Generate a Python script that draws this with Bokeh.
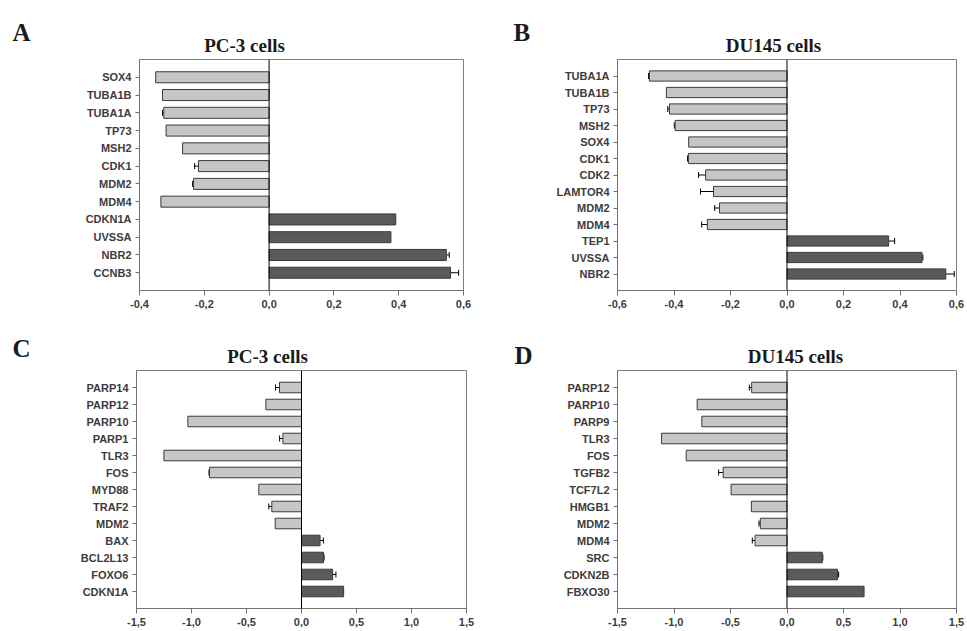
from bokeh.plotting import figure
from bokeh.layouts import column, row
from bokeh.models import (Range1d, FixedTicker, CustomJSTickFormatter, Span, Whisker,
                          TeeHead, Label, ColumnDataSource)
from bokeh.embed import file_html
from bokeh.resources import INLINE

# ---------------- data ----------------
A_genes = ["SOX4", "TUBA1B", "TUBA1A", "TP73", "MSH2", "CDK1", "MDM2", "MDM4",
           "CDKN1A", "UVSSA", "NBR2", "CCNB3"]
A_values = [-0.350, -0.329, -0.325, -0.318, -0.267, -0.218, -0.233, -0.334,
            0.391, 0.376, 0.547, 0.560]
A_errors = [0, 0, 0.004, 0, 0, 0.012, 0.003, 0, 0, 0, 0.009, 0.025]
A_ticks = [-0.4, -0.2, 0.0, 0.2, 0.4, 0.6]

B_genes = ["TUBA1A", "TUBA1B", "TP73", "MSH2", "SOX4", "CDK1", "CDK2", "LAMTOR4",
           "MDM2", "MDM4", "TEP1", "UVSSA", "NBR2"]
B_values = [-0.487, -0.427, -0.416, -0.396, -0.348, -0.349, -0.288, -0.260,
            -0.239, -0.282, 0.360, 0.478, 0.562]
B_errors = [0.003, 0, 0.006, 0.003, 0, 0.003, 0.025, 0.046, 0.017, 0.020,
            0.021, 0.003, 0.030]
B_ticks = [-0.6, -0.4, -0.2, 0.0, 0.2, 0.4, 0.6]

C_genes = ["PARP14", "PARP12", "PARP10", "PARP1", "TLR3", "FOS", "MYD88", "TRAF2",
           "MDM2", "BAX", "BCL2L13", "FOXO6", "CDKN1A"]
C_values = [-0.200, -0.324, -1.033, -0.169, -1.251, -0.836, -0.388, -0.270,
            -0.239, 0.169, 0.200, 0.283, 0.383]
C_errors = [0.036, 0, 0, 0.030, 0, 0.005, 0, 0.027, 0, 0.030, 0.005, 0.030, 0]
C_ticks = [-1.5, -1.0, -0.5, 0.0, 0.5, 1.0, 1.5]

D_genes = ["PARP12", "PARP10", "PARP9", "TLR3", "FOS", "TGFB2", "TCF7L2", "HMGB1",
           "MDM2", "MDM4", "SRC", "CDKN2B", "FBXO30"]
D_values = [-0.313, -0.795, -0.754, -1.110, -0.892, -0.565, -0.495, -0.315,
            -0.236, -0.283, 0.312, 0.447, 0.682]
D_errors = [0.020, 0, 0, 0, 0, 0.040, 0, 0, 0.012, 0.024, 0.005, 0.010, 0]
D_ticks = [-1.5, -1.0, -0.5, 0.0, 0.5, 1.0, 1.5]

NEG_FILL = "#c6c6c6"
POS_FILL = "#5a5a5a"
EDGE = "#3a3a3a"
LABEL_COLOR = "#3c3c3c"


def make_header(letter, title, width, height, letter_pos, title_pos):
    h = figure(width=width, height=height, output_backend="svg", toolbar_location=None,
               x_axis_location=None, y_axis_location=None,
               x_range=Range1d(0, 1), y_range=Range1d(0, 1),
               min_border_left=0, min_border_right=0, min_border_top=0,
               min_border_bottom=0)
    h.outline_line_color = None
    h.xgrid.visible = False
    h.ygrid.visible = False
    h.background_fill_color = "white"
    h.border_fill_color = "white"
    lx, ly = letter_pos
    h.add_layout(Label(x=lx, y=ly, x_units="screen", y_units="screen", text=letter,
                       text_font="Liberation Serif", text_font_style="bold",
                       text_font_size="25px", text_color="#1a1a1a",
                       text_baseline="alphabetic", text_align="left"))
    tx, ty = title_pos
    h.add_layout(Label(x=tx, y=ty, x_units="screen", y_units="screen", text=title,
                       text_font="Liberation Serif", text_font_style="bold",
                       text_font_size="19px", text_color="#1a1a1a",
                       text_baseline="alphabetic", text_align="center"))
    return h


def make_panel(genes, values, errors, ticks, width, height, borders):
    n = len(genes)
    bl, br, bt, bb = borders
    p = figure(width=width, height=height, output_backend="svg", toolbar_location=None,
               x_range=Range1d(ticks[0], ticks[-1]), y_range=Range1d(n, -1),
               min_border_left=bl, min_border_right=br, min_border_top=bt,
               min_border_bottom=bb)
    p.background_fill_color = "white"
    p.border_fill_color = "white"
    p.outline_line_color = "#808080"
    p.outline_line_width = 1
    p.xgrid.visible = False
    p.ygrid.visible = False

    pos = list(range(n))
    neg_idx = [i for i in pos if values[i] < 0]
    pos_idx = [i for i in pos if values[i] >= 0]

    src_neg = ColumnDataSource(dict(y=[pos[i] for i in neg_idx],
                                    v=[values[i] for i in neg_idx]))
    src_pos = ColumnDataSource(dict(y=[pos[i] for i in pos_idx],
                                    v=[values[i] for i in pos_idx]))
    p.hbar(y="y", left=0, right="v", height=0.62, source=src_neg,
           fill_color=NEG_FILL, line_color=EDGE, line_width=1)
    p.hbar(y="y", left=0, right="v", height=0.62, source=src_pos,
           fill_color=POS_FILL, line_color=EDGE, line_width=1)

    # error bars (one-sided, outward)
    en = [i for i in neg_idx if errors[i] > 0]
    ep = [i for i in pos_idx if errors[i] > 0]
    if en:
        s = ColumnDataSource(dict(base=[pos[i] for i in en],
                                  lower=[values[i] - errors[i] for i in en],
                                  upper=[values[i] for i in en]))
        p.add_layout(Whisker(source=s, base="base", lower="lower", upper="upper",
                             dimension="width", line_color="black", line_width=1,
                             lower_head=TeeHead(size=6, line_color="black", line_width=1),
                             upper_head=None))
    if ep:
        s = ColumnDataSource(dict(base=[pos[i] for i in ep],
                                  lower=[values[i] for i in ep],
                                  upper=[values[i] + errors[i] for i in ep]))
        p.add_layout(Whisker(source=s, base="base", lower="lower", upper="upper",
                             dimension="width", line_color="black", line_width=1,
                             upper_head=TeeHead(size=6, line_color="black", line_width=1),
                             lower_head=None))

    p.add_layout(Span(location=0, dimension="height", line_color="black", line_width=1))

    # x axis
    xa = p.xaxis[0]
    xa.ticker = FixedTicker(ticks=ticks, minor_ticks=[])
    xa.formatter = CustomJSTickFormatter(code="return tick.toFixed(1).replace('.', ',');")
    xa.major_tick_out = 5
    xa.major_tick_in = 0
    xa.minor_tick_out = 0
    xa.minor_tick_in = 0
    xa.major_label_standoff = 4
    xa.axis_line_color = "#707070"
    xa.major_tick_line_color = "#707070"
    xa.major_label_text_font = "Liberation Sans"
    xa.major_label_text_font_style = "bold"
    xa.major_label_text_font_size = "11px"
    xa.major_label_text_color = LABEL_COLOR

    # y axis
    ya = p.yaxis[0]
    ya.ticker = FixedTicker(ticks=pos, minor_ticks=[])
    ya.major_label_overrides = {i: g for i, g in zip(pos, genes)}
    ya.major_tick_out = 4
    ya.major_tick_in = 0
    ya.minor_tick_out = 0
    ya.minor_tick_in = 0
    ya.major_label_standoff = 4
    ya.axis_line_color = "#707070"
    ya.major_tick_line_color = "#707070"
    ya.major_label_text_font = "Liberation Sans"
    ya.major_label_text_font_style = "bold"
    ya.major_label_text_font_size = "11px"
    ya.major_label_text_color = LABEL_COLOR
    return p


hA = make_header("A", "PC-3 cells", 475, 58, (12, 26), (244, 13))
hB = make_header("B", "DU145 cells", 491, 58, (38, 26), (298, 13))
hC = make_header("C", "PC-3 cells", 475, 53, (12, 21), (267, 13))
hD = make_header("D", "DU145 cells", 491, 53, (39, 14), (320, 13))

pA = make_panel(A_genes, A_values, A_errors, A_ticks, 475, 258, (139, 12, 1, 26))
pB = make_panel(B_genes, B_values, B_errors, B_ticks, 491, 258, (142, 10, 1, 26))
pC = make_panel(C_genes, C_values, C_errors, C_ticks, 475, 261, (136, 9, 1, 22))
pD = make_panel(D_genes, D_values, D_errors, D_ticks, 491, 261, (142, 10, 1, 22))

layout = column(row(hA, hB), row(pA, pB), row(hC, hD), row(pC, pD))
open("out.html", "w").write(file_html(layout, INLINE))
